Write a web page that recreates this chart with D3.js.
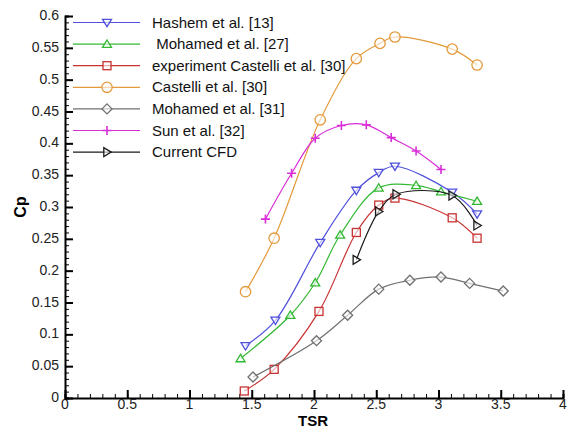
<!DOCTYPE html>
<html><head><meta charset="utf-8">
<script src="https://cdn.jsdelivr.net/npm/d3@7"></script>
<style>body{margin:0;background:#fff}svg{display:block}text{font-family:"Liberation Sans",Arial,sans-serif}</style>
</head><body><svg id="c" width="572" height="429"></svg>
<script>
const seriesNames = ["Hashem et al. [13]", " Mohamed et al. [27]", "experiment Castelli et al. [30]", "Castelli et al. [30]", "Mohamed et al. [31]", "Sun et al. [32]", "Current CFD"];
const hashemX = [1.45, 1.69, 2.05, 2.34, 2.52, 2.65, 3.11, 3.31];
const hashemY = [0.082, 0.122, 0.244, 0.326, 0.354, 0.364, 0.323, 0.289];
const mohamed27X = [1.41, 1.81, 2.01, 2.21, 2.52, 2.82, 3.02, 3.31];
const mohamed27Y = [0.062, 0.130, 0.181, 0.256, 0.330, 0.334, 0.324, 0.309];
const expCastelliX = [1.44, 1.68, 2.04, 2.34, 2.52, 2.65, 3.11, 3.31];
const expCastelliY = [0.011, 0.045, 0.136, 0.260, 0.303, 0.314, 0.283, 0.251];
const castelliX = [1.45, 1.68, 2.05, 2.34, 2.53, 2.65, 3.11, 3.31];
const castelliY = [0.167, 0.251, 0.437, 0.533, 0.557, 0.567, 0.548, 0.523];
const mohamed31X = [1.51, 2.02, 2.27, 2.52, 2.77, 3.02, 3.25, 3.52];
const mohamed31Y = [0.033, 0.090, 0.130, 0.171, 0.185, 0.190, 0.180, 0.168];
const sunX = [1.61, 1.82, 2.01, 2.22, 2.42, 2.62, 2.82, 3.02];
const sunY = [0.281, 0.353, 0.408, 0.428, 0.429, 0.409, 0.388, 0.359];
const cfdX = [2.34, 2.52, 2.66, 3.11, 3.31];
const cfdY = [0.217, 0.293, 0.320, 0.318, 0.271];
const xTicks = [0, 0.5, 1, 1.5, 2, 2.5, 3, 3.5, 4];
const yTicks = [0, 0.05, 0.1, 0.15, 0.2, 0.25, 0.3, 0.35, 0.4, 0.45, 0.5, 0.55, 0.6];

const colors = ["#5050dc", "#33b833", "#c83232", "#e39a3c", "#707070", "#d82ed8", "#1a1a1a"];
const markers = ["down", "up", "square", "circle", "diamond", "plus", "right"];
const xs = [hashemX, mohamed27X, expCastelliX, castelliX, mohamed31X, sunX, cfdX];
const ys = [hashemY, mohamed27Y, expCastelliY, castelliY, mohamed31Y, sunY, cfdY];

const svg = d3.select("#c");
const x = d3.scaleLinear().domain([0, 4]).range([65, 563]);
const y = d3.scaleLinear().domain([0, 0.6]).range([398, 16]);

// axes
const xAxis = svg.append("g").attr("transform", "translate(0,398)");
xAxis.call(d3.axisTop(x).tickValues(d3.range(0, 4.0001, 0.1)).tickSize(4).tickFormat(""));
xAxis.call(g => g.selectAll(".tick line").attr("stroke", "#000").attr("stroke-width", 1));
const xMaj = svg.append("g").attr("transform", "translate(0,398)").call(d3.axisTop(x).tickValues(xTicks).tickSize(8).tickFormat(""));
xMaj.selectAll(".tick line").attr("stroke-width", 2);
xMaj.select(".domain").remove();
xAxis.select(".domain").attr("stroke-width", 2);
svg.append("g").selectAll("text").data(xTicks).join("text")
  .attr("x", d => x(d)).attr("y", 409).attr("text-anchor", "middle")
  .attr("font-size", 14).attr("fill", "#222").text(d => d3.format("")(d));

const yAxis = svg.append("g").attr("transform", "translate(65,0)");
yAxis.call(d3.axisRight(y).tickValues(d3.range(0, 0.6001, 0.01)).tickSize(4).tickFormat(""));
yAxis.select(".domain").attr("stroke-width", 2);
const yMaj = svg.append("g").attr("transform", "translate(65,0)").call(d3.axisRight(y).tickValues(yTicks).tickSize(8).tickFormat(""));
yMaj.selectAll(".tick line").attr("stroke-width", 2);
yMaj.select(".domain").remove();
svg.append("g").selectAll("text").data(yTicks).join("text")
  .attr("x", 59).attr("y", d => y(d) + 4).attr("text-anchor", "end")
  .attr("font-size", 14).attr("fill", "#222").text(d => d3.format("")(d));

svg.append("text").attr("x", 313).attr("y", 426).attr("text-anchor", "middle")
  .attr("font-size", 15).attr("font-weight", "bold").text("TSR");
svg.append("text").attr("transform", "translate(26,207) rotate(-90)").attr("text-anchor", "middle")
  .attr("font-size", 16).attr("font-weight", "bold").text("Cp");

function marker(g, type, cx, cy, color) {
  const s = 4.5;
  let el;
  if (type === "circle") el = g.append("circle").attr("cx", cx).attr("cy", cy).attr("r", 5.2);
  else if (type === "square") el = g.append("rect").attr("x", cx - 4).attr("y", cy - 4).attr("width", 8).attr("height", 8);
  else if (type === "down") el = g.append("path").attr("d", `M${cx-s},${cy-3.2}L${cx+s},${cy-3.2}L${cx},${cy+4.2}Z`);
  else if (type === "up") el = g.append("path").attr("d", `M${cx-s},${cy+3.2}L${cx+s},${cy+3.2}L${cx},${cy-4.2}Z`);
  else if (type === "right") el = g.append("path").attr("d", `M${cx-3.2},${cy-s}L${cx-3.2},${cy+s}L${cx+4.2},${cy}Z`);
  else if (type === "diamond") el = g.append("path").attr("d", `M${cx},${cy-5}L${cx+5},${cy}L${cx},${cy+5}L${cx-5},${cy}Z`);
  else if (type === "plus") el = g.append("path").attr("d", `M${cx-4.5},${cy}L${cx+4.5},${cy}M${cx},${cy-4.5}L${cx},${cy+4.5}`);
  el.attr("fill", type === "plus" ? "none" : "#fff").attr("fill-opacity", type === "plus" ? 0 : 0.6).attr("stroke", color).attr("stroke-width", type === "plus" ? 1.6 : 1.3);
}

const line = d3.line().curve(d3.curveCatmullRom.alpha(0.5)).x(d => x(d[0])).y(d => y(d[1]));
seriesNames.forEach((name, i) => {
  const pts = xs[i].map((v, k) => [v, ys[i][k]]);
  const g = svg.append("g");
  g.append("path").attr("d", line(pts)).attr("fill", "none").attr("stroke", colors[i]).attr("stroke-width", 1.2);
  pts.forEach(p => marker(g, markers[i], x(p[0]), y(p[1]), colors[i]));
});

// legend
const lg = svg.append("g");
seriesNames.forEach((name, i) => {
  const ly = 22.5 + i * 21.6;
  lg.append("line").attr("x1", 73).attr("x2", 140).attr("y1", ly).attr("y2", ly).attr("stroke", colors[i]).attr("stroke-width", 1.2);
  marker(lg, markers[i], 107, ly, colors[i]);
  lg.append("text").attr("x", 152).attr("y", ly + 5).attr("font-size", 15).attr("fill", "#111").attr("xml:space", "preserve").style("white-space", "pre").text(name);
});
</script></body></html>
